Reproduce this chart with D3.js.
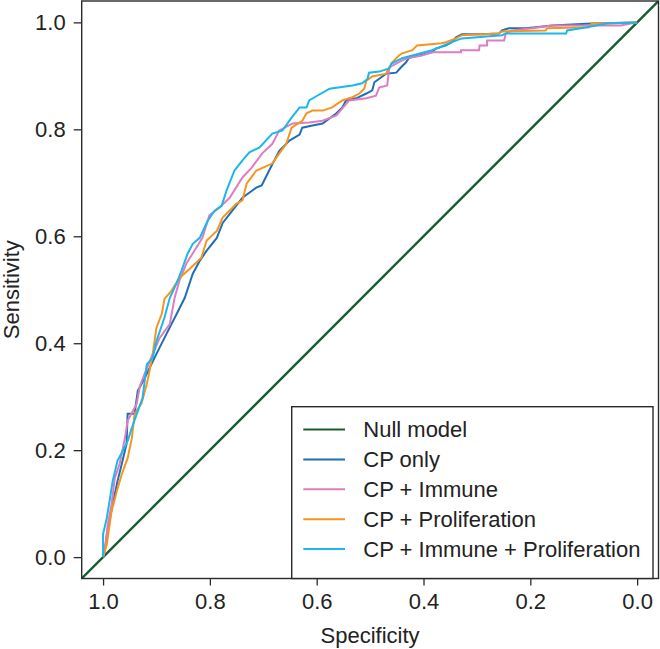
<!DOCTYPE html>
<html>
<head>
<meta charset="utf-8">
<script src="https://cdn.jsdelivr.net/npm/d3@7"></script>
<style>
  html, body { margin: 0; padding: 0; background: #fff; }
  svg { display: block; }
  text { font-family: "Liberation Sans", Arial, Helvetica, sans-serif; fill: #222; }
</style>
</head>
<body>
<svg id="chart" width="660" height="649"></svg>
<script>
// ---- Data (specificity, sensitivity) ----
const xTicks = [1.0, 0.8, 0.6, 0.4, 0.2, 0.0];
const yTicks = [0.0, 0.2, 0.4, 0.6, 0.8, 1.0];
const seriesNames = ["Null model", "CP only", "CP + Immune", "CP + Proliferation", "CP + Immune + Proliferation"];
const seriesColors = ["#1a5c32", "#1f6fb6", "#e07cc2", "#f7941f", "#1ab7ee"];

const cpOnly = [
  [1,0],[0.997,0.011],[0.991,0.054],[0.982,0.099],[0.973,0.142],[0.965,0.174],[0.956,0.212],[0.954,0.268],
  [0.941,0.268],[0.935,0.311],[0.922,0.335],[0.900,0.380],[0.881,0.418],[0.862,0.455],[0.847,0.485],
  [0.832,0.530],[0.819,0.554],[0.806,0.573],[0.787,0.597],[0.776,0.625],[0.758,0.648],[0.739,0.672],
  [0.713,0.691],[0.703,0.695],[0.689,0.723],[0.670,0.760],[0.651,0.779],[0.632,0.790],[0.627,0.803],
  [0.608,0.807],[0.589,0.811],[0.563,0.830],[0.552,0.841],[0.545,0.854],[0.526,0.858],[0.507,0.867],
  [0.496,0.873],[0.492,0.888],[0.470,0.904],[0.451,0.906],[0.442,0.916],[0.433,0.925],[0.427,0.934],
  [0.408,0.938],[0.384,0.944],[0.377,0.951],[0.358,0.957],[0.347,0.963],[0.339,0.972],[0.328,0.978],
  [0.291,0.978],[0.259,0.979],[0.253,0.985],[0.240,0.989],[0.208,0.989],[0.159,0.994],[0.085,0.998],[0.0,1.0]
];
const cpImmune = [
  [1,0],[0.997,0.011],[0.991,0.062],[0.984,0.099],[0.978,0.148],[0.969,0.174],[0.959,0.223],[0.954,0.255],
  [0.937,0.287],[0.931,0.320],[0.922,0.343],[0.907,0.380],[0.894,0.410],[0.875,0.436],[0.866,0.485],
  [0.857,0.517],[0.844,0.549],[0.829,0.573],[0.814,0.597],[0.801,0.639],[0.782,0.654],[0.763,0.672],
  [0.739,0.710],[0.722,0.728],[0.702,0.755],[0.683,0.773],[0.670,0.798],[0.645,0.811],[0.614,0.813],
  [0.589,0.816],[0.563,0.826],[0.552,0.839],[0.539,0.854],[0.507,0.858],[0.489,0.863],[0.483,0.878],
  [0.468,0.882],[0.464,0.916],[0.440,0.929],[0.427,0.934],[0.403,0.938],[0.384,0.944],[0.330,0.944],
  [0.330,0.948],[0.296,0.948],[0.295,0.957],[0.281,0.957],[0.281,0.966],[0.249,0.966],[0.246,0.979],
  [0.234,0.985],[0.197,0.989],[0.159,0.994],[0.031,0.994],[0.0,1.0]
];
const cpProlif = [
  [1,0],[0.993,0.024],[0.984,0.086],[0.974,0.124],[0.965,0.155],[0.954,0.185],[0.946,0.223],[0.941,0.268],
  [0.928,0.287],[0.918,0.324],[0.913,0.348],[0.907,0.380],[0.900,0.429],[0.890,0.455],[0.885,0.483],
  [0.872,0.498],[0.857,0.522],[0.838,0.539],[0.816,0.560],[0.806,0.592],[0.787,0.610],[0.776,0.635],
  [0.750,0.661],[0.739,0.667],[0.731,0.699],[0.713,0.723],[0.683,0.736],[0.670,0.755],[0.657,0.773],
  [0.647,0.803],[0.627,0.816],[0.619,0.830],[0.608,0.835],[0.589,0.835],[0.571,0.841],[0.552,0.854],
  [0.533,0.860],[0.520,0.867],[0.511,0.876],[0.507,0.891],[0.496,0.899],[0.470,0.904],[0.464,0.916],
  [0.459,0.925],[0.446,0.938],[0.440,0.942],[0.421,0.948],[0.412,0.957],[0.366,0.961],[0.358,0.963],
  [0.339,0.970],[0.328,0.976],[0.259,0.979],[0.253,0.983],[0.171,0.985],[0.169,0.989],[0.090,0.991],
  [0.085,0.998],[0.0,1.0]
];
const cpImmuneProlif = [
  [1,0],[1.000,0.043],[0.993,0.073],[0.987,0.110],[0.982,0.142],[0.973,0.180],[0.963,0.199],[0.954,0.217],
  [0.946,0.242],[0.935,0.273],[0.926,0.298],[0.922,0.330],[0.918,0.361],[0.907,0.373],[0.900,0.404],
  [0.885,0.448],[0.875,0.485],[0.862,0.513],[0.853,0.536],[0.842,0.567],[0.832,0.586],[0.819,0.597],
  [0.804,0.629],[0.791,0.648],[0.778,0.657],[0.769,0.685],[0.754,0.723],[0.739,0.742],[0.726,0.757],
  [0.707,0.766],[0.683,0.792],[0.664,0.798],[0.647,0.822],[0.632,0.841],[0.619,0.841],[0.614,0.854],
  [0.604,0.860],[0.576,0.876],[0.533,0.882],[0.515,0.886],[0.505,0.894],[0.502,0.906],[0.483,0.908],
  [0.464,0.914],[0.460,0.923],[0.440,0.933],[0.421,0.938],[0.384,0.948],[0.371,0.953],[0.347,0.963],
  [0.328,0.970],[0.253,0.976],[0.246,0.979],[0.133,0.979],[0.131,0.985],[0.094,0.991],[0.057,0.998],[0.0,1.0]
];

// ---- Layout ----
const svg = d3.select("#chart");
const padL = 81.7, padR = 658.5, padT = 1, padB = 578.5;
const fontSize = 22;
const x = d3.scaleLinear().domain([1.04, -0.04]).range([padL, padR]);
const y = d3.scaleLinear().domain([-0.04, 1.04]).range([padB, padT]);

const defs = svg.append("defs");
defs.append("clipPath").attr("id", "plotclip")
  .append("rect").attr("x", padL).attr("y", padT).attr("width", padR - padL).attr("height", padB - padT);

const plot = svg.append("g").attr("clip-path", "url(#plotclip)");

// Null model line (abline through (1,0) and (0,1)), extended across plot
const nullModel = x.domain().map(s => [s, 1 - s]);
const line = d3.line().x(d => x(d[0])).y(d => y(d[1]));

plot.append("path").datum(nullModel).attr("d", line)
  .attr("fill", "none").attr("stroke", seriesColors[0]).attr("stroke-width", 2.4);

const curves = [cpOnly, cpImmune, cpProlif, cpImmuneProlif];
curves.forEach((c, i) => {
  plot.append("path").datum(c).attr("d", line)
    .attr("fill", "none").attr("stroke", seriesColors[i + 1])
    .attr("stroke-width", 2).attr("stroke-linejoin", "miter");
});

// Frame
svg.append("rect").attr("x", padL).attr("y", padT).attr("width", padR - padL).attr("height", padB - padT)
  .attr("fill", "none").attr("stroke", "#2a2a2a").attr("stroke-width", 1.4);

// Axes
const xAxis = d3.axisBottom(x).tickValues(xTicks).tickFormat(d3.format(".1f")).tickSize(7).tickPadding(8);
const yAxis = d3.axisLeft(y).tickValues(yTicks).tickFormat(d3.format(".1f")).tickSize(8).tickPadding(8);

const gx = svg.append("g").attr("transform", `translate(0,${padB})`).call(xAxis);
const gy = svg.append("g").attr("transform", `translate(${padL},0)`).call(yAxis);
[gx, gy].forEach(g => {
  g.select(".domain").remove();
  g.selectAll(".tick line").attr("stroke", "#2a2a2a").attr("stroke-width", 1.3);
  g.selectAll(".tick text").attr("font-size", fontSize).attr("fill", "#222")
    .style("font-family", "'Liberation Sans', Arial, sans-serif");
});

// Axis titles
svg.append("text").attr("x", (x(1) + x(0)) / 2).attr("y", 643).attr("text-anchor", "middle")
  .attr("font-size", fontSize).text("Specificity");
svg.append("text").attr("transform", `translate(19,${(y(0) + y(1)) / 2}) rotate(-90)`)
  .attr("text-anchor", "middle").attr("font-size", fontSize).text("Sensitivity");

// Legend
const lg = svg.append("g");
lg.append("rect").attr("x", 291.7).attr("y", 406.7).attr("width", 653 - 291.7).attr("height", padB - 406.7)
  .attr("fill", "#fff").attr("stroke", "#2a2a2a").attr("stroke-width", 1.4);
seriesNames.forEach((name, i) => {
  const yy = 429.5 + i * 29.9;
  lg.append("line").attr("x1", 303.3).attr("x2", 345).attr("y1", yy).attr("y2", yy)
    .attr("stroke", seriesColors[i]).attr("stroke-width", 2);
  lg.append("text").attr("x", 363.3).attr("y", yy).attr("dy", "0.35em")
    .attr("font-size", fontSize).text(name);
});
</script>
</body>
</html>
